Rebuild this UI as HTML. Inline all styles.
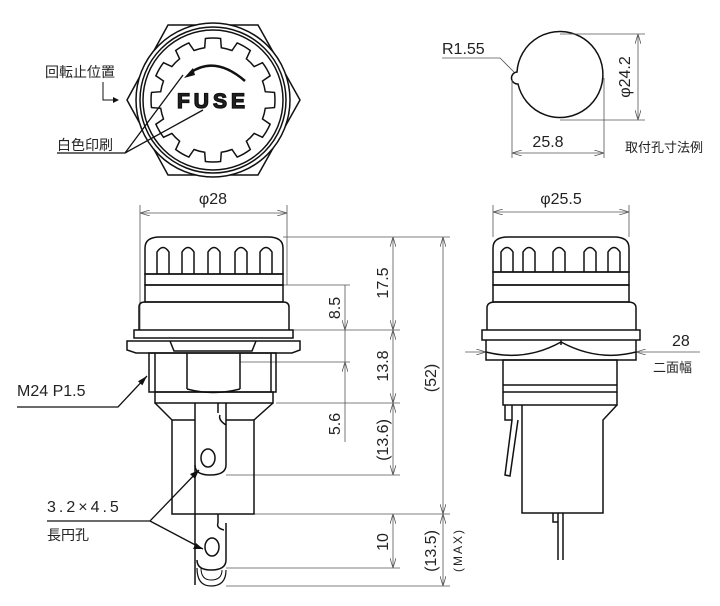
<!DOCTYPE html>
<html><head><meta charset="utf-8"><style>
html,body{margin:0;padding:0;background:#fff;}
svg{display:block;}
text{font-family:"Liberation Sans","Noto Sans CJK JP",sans-serif;fill:#222;}
</style></head><body>
<svg width="720" height="606" viewBox="0 0 720 606" xmlns="http://www.w3.org/2000/svg">
<defs>
<marker id="a" markerWidth="10" markerHeight="6" refX="10" refY="3" orient="auto-start-reverse" markerUnits="userSpaceOnUse"><path d="M0,0 L10,3 L0,6" fill="none" stroke="#555" stroke-width="0.8"/></marker>
<marker id="b" markerWidth="10" markerHeight="6" refX="10" refY="3" orient="auto" markerUnits="userSpaceOnUse"><path d="M0,0 L10,3 L0,6 z" fill="#111"/></marker>
</defs>

<!-- ===== TOP VIEW ===== -->
<g fill="none" stroke="#111" stroke-width="1.5">
<polygon points="168,25 258,25 300,100 258,175 168,175 127,100"/>
<circle cx="213" cy="100" r="77" fill="#fff"/>
<circle cx="213" cy="100" r="73"/>
<circle cx="213" cy="100" r="70"/>
<path id="gear" d="M213,40 L222,39 L228,44 L238,45 L243,51 L252,55 L254,62 L262,68 L262,76 L268,84 L265,92 L270,100 L265,108 L268,116 L262,124 L262,132 L254,138 L252,145 L243,149 L238,155 L228,156 L222,161 L213,160 L204,161 L198,156 L188,155 L183,149 L174,145 L172,138 L164,132 L164,124 L158,116 L161,108 L156,100 L161,92 L158,84 L164,76 L164,68 L172,62 L174,55 L183,51 L188,45 L198,44 L204,39 Z"/>
<path d="M190,73 Q215,55 245,81" stroke-width="2.5"/>
</g>
<script>
(function(){var cx=213,cy=100,d="",R=62,r=53;function p(a,rr){var t=(a-90)*Math.PI/180;return (cx+rr*Math.cos(t)).toFixed(1)+","+(cy+rr*Math.sin(t)).toFixed(1);}
for(var k=0;k<12;k++){var th=k*30;d+=(k?" L":"M")+p(th-9,r)+" L"+p(th-7,R)+" A"+R+","+R+" 0 0 1 "+p(th+7,R)+" L"+p(th+9,r)+" A"+r+","+r+" 0 0 1 "+p(th+21,r);}
document.getElementById("gear").setAttribute("d",d+" Z");})();
</script>
<path d="M184,78 L193,68 L195,75 Z" fill="#111"/>
<text x="213" y="108" font-size="21" font-weight="bold" text-anchor="middle" letter-spacing="4" fill="#fff" stroke="#111" stroke-width="1.3">FUSE</text>
<text x="45" y="77" font-size="14">回転止位置</text>
<path d="M103,82 L103,100 L117,100" fill="none" stroke="#111" stroke-width="1"/>
<path d="M113,97 L119,100 L113,103 z" fill="#111"/>
<text x="57" y="150" font-size="14">白色印刷</text>
<path d="M57,153 L125,153 L183,75 M125,153 L203,110" fill="none" stroke="#111" stroke-width="1.3"/>

<!-- ===== HOLE ===== -->
<path d="M517,72 A43,43 0 1 1 518,84 A4,4 0 0 1 517,72 Z" fill="none" stroke="#111" stroke-width="1.5"/>
<g stroke="#555" stroke-width="0.8" fill="none">
<path d="M560,34 L645,34 M560,120 L645,120"/>
<line x1="638" y1="34" x2="638" y2="120" marker-start="url(#a)" marker-end="url(#a)"/>
<path d="M512,80 L512,158 M604,78 L604,158"/>
<line x1="512" y1="153" x2="604" y2="153" marker-start="url(#a)" marker-end="url(#a)"/>
<path d="M442,58 L500,58 L514,72"/>
</g>
<text x="442" y="54" font-size="16">R1.55</text>
<text x="548" y="147" font-size="16" text-anchor="middle">25.8</text>
<text transform="translate(630,77) rotate(-90)" font-size="16" text-anchor="middle">φ24.2</text>
<text x="625" y="152" font-size="13">取付孔寸法例</text>

<!-- ===== FRONT VIEW LEFT ===== -->
<g stroke="#555" stroke-width="0.8" fill="none">
<path d="M140,205 L140,330 M287,205 L287,285"/>
<line x1="140" y1="213" x2="287" y2="213" marker-start="url(#a)" marker-end="url(#a)"/>
<path d="M283,237 L450,237 M283,285 L350,285 M293,330 L400,330 M276,403 L400,403 M226,475 L400,475 M254,514 L450,514 M226,568 L400,568 M226,586 L450,586 M240,362 L350,362"/>
<line x1="393" y1="237" x2="393" y2="330" marker-start="url(#a)" marker-end="url(#a)"/>
<line x1="393" y1="330" x2="393" y2="403" marker-start="url(#a)" marker-end="url(#a)"/>
<line x1="393" y1="403" x2="393" y2="475" marker-start="url(#a)" marker-end="url(#a)"/>
<line x1="345" y1="285" x2="345" y2="330" marker-end="url(#a)"/>
<line x1="345" y1="330" x2="345" y2="362"/>
<line x1="345" y1="362" x2="345" y2="442" marker-start="url(#a)"/>
<line x1="443" y1="237" x2="443" y2="514" marker-start="url(#a)" marker-end="url(#a)"/>
<line x1="443" y1="514" x2="443" y2="586" marker-start="url(#a)" marker-end="url(#a)"/>
<line x1="393" y1="514" x2="393" y2="568" marker-start="url(#a)" marker-end="url(#a)"/>
</g>
<text x="213" y="204" font-size="16" text-anchor="middle">φ28</text>
<g font-size="16" text-anchor="middle">
<text transform="translate(388,283) rotate(-90)">17.5</text>
<text transform="translate(388,366) rotate(-90)">13.8</text>
<text transform="translate(388,440) rotate(-90)">(13.6)</text>
<text transform="translate(340,308) rotate(-90)">8.5</text>
<text transform="translate(340,424) rotate(-90)">5.6</text>
<text transform="translate(436,378) rotate(-90)">(52)</text>
<text transform="translate(436,551) rotate(-90)">(13.5)</text>
<text transform="translate(388,542) rotate(-90)">10</text>
<text transform="translate(462,550) rotate(-90)" font-size="12" letter-spacing="2">(MAX)</text>
</g>
<g fill="none" stroke="#111" stroke-width="1.5">
<path d="M145,274 L145,248 Q145,237 160,237 L268,237 Q283,237 283,248 L283,274 Z"/>
<path d="M157,274 L157,252 Q163,243 169,252 L169,274 M182,274 L182,252 Q188,243 194,252 L194,274 M208,274 L208,252 Q214,243 220,252 L220,274 M235,274 L235,252 Q241,243 247,252 L247,274 M260,274 L260,252 Q266,243 272,252 L272,274"/>
<rect x="145" y="274" width="138" height="11"/>
<rect x="145" y="285" width="138" height="17"/>
<path d="M139,330 L139,307 Q139,302 145,302 L283,302 Q289,302 289,307 L289,330"/>
<rect x="134" y="330" width="159" height="8"/>
<path d="M127,341 L300,341 L300,350 L292,353 L136,353 L127,350 Z"/>
<path d="M170,341 L174,351 L252,351 L256,341"/>
<rect x="149" y="353" width="127" height="39"/>
<path d="M155,353 L155,392 M187,353 L187,389 M240,353 L240,389 M271,353 L271,392 M187,389 Q213,396 240,389"/>
<rect x="155" y="392" width="118" height="11"/>
<path d="M155,403 L172,420 L172,514 L254,514 L254,420 L273,403"/>
<path d="M172,420 L195,420 M226,420 L254,420"/>
<path d="M195,403 L195,585 M226,403 L226,425 M218,403 L218,413"/>
<path d="M195,465 Q195,475 210,475 Q226,475 226,465 L226,425 Q218,420 220,415"/>
<ellipse cx="208" cy="458" rx="7" ry="9"/>
<path d="M218,514 L218,523 M226,523 L226,560 Q226,570 211,570 Q197,570 197,560"/>
<path d="M218,523 Q216,528 224,530"/>
<ellipse cx="212" cy="547" rx="7" ry="9"/>
<path d="M197,568 Q197,586 211,586 Q226,586 226,570" stroke-width="1.2"/>
<path d="M201,568 Q201,580 211,580 Q222,580 222,570" stroke-width="1"/>
</g>
<text x="17" y="396" font-size="16">M24 P1.5</text>
<path d="M17,407 L118,407 L147,376" fill="none" stroke="#111" stroke-width="1.3" marker-end="url(#b)"/>
<text x="47" y="512" font-size="16" letter-spacing="3">3.2×4.5</text>
<text x="47" y="540" font-size="14">長円孔</text>
<path d="M47,521 L150,521 L199,470 M150,521 L203,549" fill="none" stroke="#111" stroke-width="1.3"/>
<path d="M199,470 L190,474 L195,479 Z M203,549 L193,549 L196,543 Z" fill="#111"/>

<!-- ===== SIDE VIEW RIGHT ===== -->
<g stroke="#555" stroke-width="0.8" fill="none">
<path d="M493,205 L493,237 M629,205 L629,237"/>
<line x1="493" y1="212" x2="629" y2="212" marker-start="url(#a)" marker-end="url(#a)"/>
<line x1="465" y1="352" x2="486" y2="352" marker-end="url(#a)"/>
<line x1="700" y1="352" x2="636" y2="352" marker-end="url(#a)"/>
</g>
<text x="561" y="204" font-size="16" text-anchor="middle">φ25.5</text>
<text x="672" y="346" font-size="16">28</text>
<text x="653" y="372" font-size="13">二面幅</text>
<g fill="none" stroke="#111" stroke-width="1.5">
<path d="M493,272 L493,248 Q493,237 508,237 L614,237 Q629,237 629,248 L629,272 Z"/>
<path d="M501,272 L501,252 Q507,243 513,252 L513,272 M523,272 L523,252 Q529,243 535,252 L535,272 M553,272 L553,252 Q559,243 565,252 L565,272 M584,272 L584,252 Q590,243 596,252 L596,272 M608,272 L608,252 Q614,243 620,252 L620,272"/>
<rect x="493" y="272" width="136" height="13"/>
<rect x="493" y="285" width="136" height="17"/>
<path d="M487,330 L487,308 Q487,302 495,302 L628,302 Q636,302 636,308 L636,330"/>
<rect x="482" y="330" width="158" height="10"/>
<path d="M486,340 L486,360 L636,360 L636,340 M486,352 Q525,362 561,342 Q598,362 636,352 M561,340 L561,345"/>
<rect x="503" y="360" width="114" height="45"/>
<path d="M503,385 L617,385 M503,392 L617,392"/>
<path d="M617,405 L603,420 L603,513 L522,513 L522,405"/>
<path d="M505,405 L505,420 L512,420 L512,405 M512,420 L505,475 L510,476 L518,420"/>
<path d="M553,513 L553,522 L558,522 M558,513 L558,560 M563,513 L563,560"/>
</g>
</svg>
</body></html>
